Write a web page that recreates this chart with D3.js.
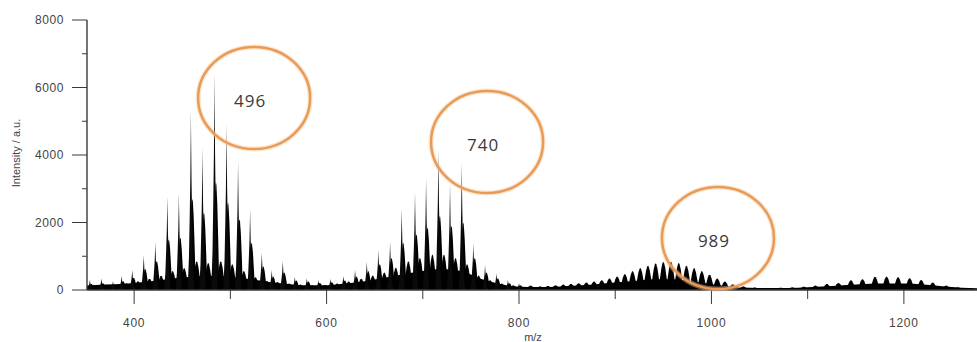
<!DOCTYPE html>
<html><head><meta charset="utf-8">
<script src="https://cdn.jsdelivr.net/npm/d3@7"></script>
<style>body{margin:0;background:#fff}svg{display:block}</style>
</head><body>
<svg id="c" width="977" height="342"></svg>
<script>
// ---- data ----
const spikeMz  = [354,366,378,387,398,410,422,434.5,446.5,459,471,483.5,496,508,520.5,532.7,543,554.5,567,579.5,591.5,604,617.5,629.6,641.8,653.8,666,678.1,691.9,703.4,716.2,728.3,740.5,752.5,764.7,776.5,788.5,800];
const spikeInt = [300,340,260,420,600,1040,1420,2780,2870,5330,4220,6440,4920,3800,2390,1106,590,860,395,346,296,330,415,593,839,1185,1432,2420,2914,3309,4148,3160,3753,1390,740,500,300,200];
const shoulderInt = [180,200,160,260,360,620,850,1500,1550,2700,2300,3200,2600,2100,1400,700,400,520,280,250,210,230,280,400,560,760,950,1400,1650,1850,2200,1900,2000,950,520,340,200,140];
const midMz  = [360,372,392,404,416,428,440,452,465,477,490,502,514,526,538,549,561,573,585,598,611,623,636,648,660,672,685,697,710,722,734,746,758,770,782,794];
const midInt = [130,140,200,260,330,420,560,650,850,800,850,760,560,380,270,240,190,160,140,150,190,250,330,430,520,660,850,950,1050,1050,950,760,430,290,190,140];
const bumpMz  = [812,822,830,838,846,854,862,870,878,886,894,902,910,918,926,934,942,950,958,966,974,982,990,998,1006,1014,1022,1033,1045,1060,1072,1084,1096,1108,1120,1132,1145,1157,1170,1182,1194,1206,1218,1230,1244,1256,1268];
const bumpInt = [130,110,120,140,160,180,200,220,250,290,340,400,470,560,650,720,790,830,840,800,720,650,560,450,340,250,170,110,75,60,70,80,100,130,180,210,290,320,390,400,380,350,300,220,130,80,60];
const noiseMz  = [351,360,380,400,420,440,460,480,500,520,540,560,580,600,620,640,660,680,700,720,740,760,780,800,820,840,860,880,900,920,940,960,980,1000,1020,1040,1060,1080,1100,1120,1140,1160,1180,1200,1220,1240,1260,1276];
const noiseInt = [130,150,170,210,270,340,390,420,390,320,240,180,140,140,190,260,360,470,560,620,560,330,180,100,90,100,130,170,220,270,320,320,260,170,100,70,60,60,80,110,150,180,190,190,160,110,70,50];
const xTicks = [400,600,800,1000,1200];
const xMinor = [500,700,900,1100];
const yTicks = [0,2000,4000,6000,8000];
const yMinor = [1000,3000,5000,7000];
const annLabels = ["496","740","989"];
const annMz  = [524.7,766.8,1006.8];
const annInt = [5689,4385,1541];
const xTitle = "m/z", yTitle = "Intensity / a.u.";

// ---- layout ----
const svg = d3.select("#c");
const x = d3.scaleLinear().domain([351,1276]).range([87,977]);
const y = d3.scaleLinear().domain([0,8000]).range([290,20]);

svg.append("defs").append("clipPath").attr("id","clip")
  .append("rect").attr("x",87).attr("y",0).attr("width",890).attr("height",290);
const plot = svg.append("g").attr("clip-path","url(#clip)");

const area = d3.area().x(d=>x(d[0])).y0(y(0)).y1(d=>y(d[1]));

plot.append("path").datum(noiseMz.map((m,i)=>[m,noiseInt[i]]))
  .attr("d",area.curve(d3.curveMonotoneX)).attr("fill","#000");
area.curve(d3.curveLinear);

// peak profile shape (style): sharp tip, broad body
const profDx = [-1,-0.6,-0.36,-0.18,-0.06,0,0.06,0.18,0.36,0.6,1];
const profDy = [0,0.18,0.42,0.62,0.85,1,0.85,0.62,0.42,0.18,0];
const bumpDx = [-1,-0.7,-0.4,-0.15,0,0.15,0.4,0.7,1];
const bumpDy = [0,0.45,0.8,0.97,1,0.97,0.8,0.45,0];
function shape(m,h,w,dx,dy){return dx.map((d,k)=>[m+d*w,h*dy[k]]);}

midMz.forEach((m,i)=>{
  plot.append("path").datum(shape(m,midInt[i],4.5,bumpDx,bumpDy)).attr("d",area).attr("fill","#000");
});
spikeMz.forEach((m,i)=>{
  plot.append("path").datum(shape(m+1.5,shoulderInt[i],3.5,bumpDx,bumpDy)).attr("d",area).attr("fill","#000");
});
spikeMz.forEach((m,i)=>{
  plot.append("path").datum(shape(m,spikeInt[i],3.4,profDx,profDy)).attr("d",area).attr("fill","#0a0a0a");
});
bumpMz.forEach((m,i)=>{
  plot.append("path").datum(shape(m,bumpInt[i],4.8,bumpDx,bumpDy)).attr("d",area).attr("fill","#000");
});

// axes
const axCol = "#3a3a3a";
const font = "'Liberation Sans', Arial, sans-serif";
svg.append("line").attr("x1",87).attr("x2",977).attr("y1",y(0)).attr("y2",y(0)).attr("stroke",axCol).attr("stroke-width",1.6);
svg.append("line").attr("x1",87).attr("x2",87).attr("y1",y(8000)).attr("y2",y(0)).attr("stroke",axCol).attr("stroke-width",1.4);

xTicks.forEach(t=>{
  svg.append("line").attr("x1",x(t)).attr("x2",x(t)).attr("y1",y(0)).attr("y2",y(0)+14).attr("stroke",axCol).attr("stroke-width",1);
  svg.append("text").attr("x",x(t)).attr("y",327).attr("text-anchor","middle")
    .attr("font-family",font).attr("font-size",12).attr("letter-spacing",0.8).attr("fill","#444").text(t);
});
xMinor.forEach(t=>{
  svg.append("line").attr("x1",x(t)).attr("x2",x(t)).attr("y1",y(0)).attr("y2",y(0)+9).attr("stroke",axCol).attr("stroke-width",1);
});
yTicks.forEach(t=>{
  svg.append("line").attr("x1",72).attr("x2",87).attr("y1",y(t)).attr("y2",y(t)).attr("stroke",axCol).attr("stroke-width",1);
  svg.append("text").attr("x",64).attr("y",y(t)+4).attr("text-anchor","end")
    .attr("font-family",font).attr("font-size",12).attr("letter-spacing",0.6).attr("fill","#444").text(t);
});
yMinor.forEach(t=>{
  svg.append("line").attr("x1",82).attr("x2",87).attr("y1",y(t)).attr("y2",y(t)).attr("stroke",axCol).attr("stroke-width",1);
});
svg.append("text").attr("x",533).attr("y",341).attr("text-anchor","middle")
  .attr("font-family",font).attr("font-size",11).attr("fill","#444").text(xTitle);
svg.append("text").attr("transform","translate(20,153) rotate(-90)").attr("text-anchor","middle")
  .attr("font-family",font).attr("font-size",11).attr("fill","#444").text(yTitle);

// annotations
annLabels.forEach((l,i)=>{
  const cx = x(annMz[i]), cy = y(annInt[i]);
  svg.append("ellipse").attr("cx",cx).attr("cy",cy).attr("rx",56).attr("ry",51)
    .attr("fill","none").attr("stroke","#f6c79c").attr("stroke-width",5).attr("opacity",0.45);
  svg.append("ellipse").attr("cx",cx).attr("cy",cy).attr("rx",56).attr("ry",51)
    .attr("fill","none").attr("stroke","#e99a55").attr("stroke-width",2.5);
  svg.append("text").attr("x",cx-4).attr("y",cy+9).attr("text-anchor","middle")
    .attr("font-family","'Open Sans', sans-serif").attr("font-size",17).attr("letter-spacing",1)
    .attr("fill","#3a3a3a").text(l);
});
</script>
</body></html>
